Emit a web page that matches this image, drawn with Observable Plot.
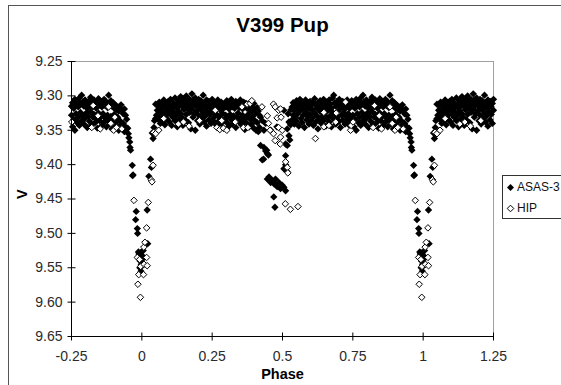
<!DOCTYPE html>
<html><head><meta charset="utf-8">
<script src="https://cdn.jsdelivr.net/npm/d3@7"></script>
<script src="https://cdn.jsdelivr.net/npm/@observablehq/plot@0.6"></script>
<style>
html,body{margin:0;padding:0;background:#fff;}
#wrap{position:relative;width:561px;height:385px;overflow:hidden;font-family:"Liberation Sans",Arial,sans-serif;background:#fff;}
#frame{position:absolute;left:8px;top:5px;width:620px;height:420px;border:1px solid #555;box-sizing:border-box;}
#chart{position:absolute;left:0;top:0;}
#legend{position:absolute;left:502px;top:175px;width:90px;height:44px;border:1px solid #333;box-sizing:border-box;background:#fff;font-size:12px;color:#111;}
#legend .row{position:absolute;left:3px;height:16px;line-height:16px;white-space:nowrap;}
#legend svg{vertical-align:middle;margin-right:2px;}
</style></head>
<body>
<div id="wrap">
  <div id="frame"></div>
  <div id="chart"></div>
  <div id="legend">
    <div class="row" style="top:3px"><svg width="9" height="9" viewBox="-4.5 -4.5 9 9"><path d="M0,-3.5L3.5,0L0,3.5L-3.5,0Z" fill="#000"/></svg>ASAS-3</div>
    <div class="row" style="top:24px"><svg width="9" height="9" viewBox="-4.5 -4.5 9 9"><path d="M0,-3.3L3.3,0L0,3.3L-3.3,0Z" fill="#fff" stroke="#000" stroke-width="1"/></svg>HIP</div>
  </div>
</div>
<script>
// ---- data (phase in [0,1); the chart repeats phases < 0.25 and > 0.75) ----
const chartTitle = "V399 Pup";
const seriesNames = ["ASAS-3", "HIP"];
const xTicks = [-0.25, 0, 0.25, 0.5, 0.75, 1, 1.25];
const yTicks = [9.25, 9.30, 9.35, 9.40, 9.45, 9.50, 9.55, 9.60, 9.65];

// ASAS-3 primary eclipse [phase, V]
const asasPrimary = [
[0.950,9.347],[0.952,9.355],[0.954,9.361],[0.957,9.367],[0.958,9.375],[0.960,9.379],
[0.966,9.401],[0.969,9.415],[0.967,9.416],[0.980,9.468],[0.978,9.480],[0.984,9.493],
[0.985,9.500],[0.988,9.527],[0.990,9.530],[0.992,9.535],[0.994,9.540],[0.996,9.528],
[0.998,9.545],[0.993,9.550],[0.997,9.555],[0.999,9.548],[0.001,9.538],[0.003,9.533],
[0.005,9.525],[0.019,9.466],[0.021,9.515],[0.025,9.417],[0.031,9.392],[0.034,9.404],
[0.037,9.354],[0.040,9.362],[0.043,9.346],[0.045,9.336],[0.049,9.312],[0.049,9.333],
[0.055,9.321],[0.052,9.328]
];
// ASAS-3 secondary eclipse [phase, V]
const asasSecondary = [
[0.422,9.331],[0.428,9.336],[0.434,9.350],[0.422,9.372],[0.434,9.375],[0.440,9.380],
[0.446,9.384],[0.428,9.393],[0.450,9.386],[0.444,9.379],[0.433,9.392],[0.446,9.421],
[0.452,9.418],[0.458,9.426],[0.464,9.423],[0.470,9.428],[0.475,9.421],[0.481,9.432],
[0.487,9.426],[0.493,9.435],[0.499,9.430],[0.505,9.433],[0.511,9.438],[0.469,9.447],
[0.473,9.462],[0.505,9.406],[0.511,9.387],[0.511,9.400],[0.516,9.410],[0.517,9.372],
[0.523,9.358],[0.526,9.364],[0.511,9.370],[0.523,9.338],[0.517,9.348],[0.529,9.342],
[0.505,9.321],[0.520,9.326],[0.530,9.320],[0.440,9.340],[0.458,9.350],[0.480,9.345]
];
// ASAS-3 out of eclipse [phase, V, V]
const asasBand = [
[0.058,9.315,9.334],[0.062,9.309,9.326],[0.066,9.322,9.340],[0.070,9.312,9.330],[0.074,9.318,9.337],
[0.078,9.306,9.325],[0.082,9.316,9.342],[0.086,9.311,9.329],[0.090,9.320,9.334],[0.094,9.308,9.323],
[0.098,9.314,9.338],[0.102,9.305,9.327],[0.106,9.319,9.343],[0.110,9.310,9.331],[0.114,9.316,9.324],
[0.118,9.303,9.336],[0.122,9.312,9.328],[0.126,9.318,9.345],[0.130,9.307,9.322],[0.132,9.334,9.313],
[0.134,9.313,9.340],[0.138,9.301,9.326],[0.142,9.309,9.331],[0.146,9.316,9.343],[0.150,9.304,9.320],
[0.154,9.311,9.335],[0.158,9.300,9.327],[0.162,9.308,9.318],[0.166,9.314,9.339],[0.170,9.305,9.324],
[0.174,9.310,9.348],[0.178,9.297,9.319],[0.182,9.306,9.331],[0.186,9.313,9.326],[0.190,9.303,9.350],
[0.194,9.309,9.322],[0.198,9.316,9.336],[0.202,9.305,9.328],[0.206,9.312,9.341],[0.210,9.307,9.320],
[0.214,9.315,9.333],[0.218,9.299,9.325],[0.222,9.310,9.338],[0.226,9.318,9.329],[0.230,9.306,9.344],
[0.234,9.313,9.323],[0.238,9.308,9.335],[0.242,9.316,9.327],[0.246,9.311,9.340],[0.250,9.305,9.321],
[0.254,9.314,9.332],[0.258,9.309,9.338],[0.262,9.318,9.326],[0.266,9.312,9.343],[0.270,9.306,9.329],
[0.274,9.315,9.336],[0.278,9.320,9.331],[0.282,9.309,9.340],[0.286,9.313,9.325],[0.290,9.318,9.347],
[0.294,9.311,9.334],[0.298,9.316,9.328],[0.302,9.307,9.339],[0.306,9.314,9.330],[0.310,9.319,9.344],
[0.314,9.310,9.327],[0.318,9.305,9.335],[0.322,9.316,9.341],[0.326,9.312,9.329],[0.330,9.318,9.336],
[0.334,9.308,9.346],[0.338,9.314,9.331],[0.342,9.310,9.325],[0.346,9.317,9.338],[0.350,9.306,9.333],
[0.354,9.313,9.342],[0.358,9.319,9.328],[0.362,9.309,9.337],[0.366,9.315,9.349],[0.370,9.311,9.332],
[0.374,9.318,9.340],[0.378,9.313,9.327],[0.382,9.320,9.345],[0.386,9.315,9.334],[0.390,9.322,9.341],
[0.394,9.316,9.330],[0.398,9.311,9.347],[0.402,9.319,9.336],[0.406,9.325,9.350],[0.410,9.317,9.339],
[0.414,9.322,9.352],[0.418,9.328,9.346],
[0.534,9.316,9.335],[0.538,9.310,9.328],[0.542,9.321,9.341],[0.546,9.313,9.331],[0.550,9.307,9.337],
[0.554,9.318,9.326],[0.558,9.311,9.344],[0.562,9.305,9.322],[0.566,9.315,9.333],[0.570,9.309,9.339],
[0.574,9.318,9.328],[0.578,9.312,9.346],[0.582,9.306,9.324],[0.586,9.316,9.335],[0.590,9.310,9.330],
[0.594,9.319,9.341],[0.598,9.308,9.327],[0.602,9.314,9.336],[0.606,9.320,9.332],[0.610,9.309,9.343],
[0.614,9.304,9.325],[0.618,9.313,9.338],[0.622,9.318,9.329],[0.626,9.310,9.348],[0.630,9.315,9.334],
[0.634,9.307,9.323],[0.638,9.312,9.340],[0.642,9.318,9.330],[0.646,9.305,9.336],[0.650,9.311,9.326],
[0.654,9.316,9.344],[0.658,9.309,9.332],[0.662,9.314,9.321],[0.666,9.306,9.338],[0.670,9.312,9.329],
[0.674,9.318,9.345],[0.678,9.303,9.324],[0.682,9.299,9.334],[0.686,9.310,9.327],[0.690,9.315,9.341],
[0.694,9.308,9.331],[0.698,9.313,9.322],[0.702,9.305,9.337],[0.706,9.311,9.346],[0.710,9.317,9.328],
[0.714,9.308,9.335],[0.718,9.313,9.324],[0.722,9.319,9.341],[0.726,9.310,9.330],[0.730,9.306,9.336],
[0.734,9.314,9.326],[0.738,9.318,9.343],[0.742,9.311,9.332],[0.746,9.307,9.338],[0.750,9.315,9.328],
[0.754,9.310,9.345],[0.758,9.318,9.334],[0.762,9.305,9.350],[0.766,9.312,9.326],[0.770,9.308,9.339],
[0.774,9.316,9.331],[0.778,9.303,9.343],[0.782,9.311,9.324],[0.786,9.299,9.336],[0.790,9.309,9.329],
[0.794,9.315,9.341],[0.798,9.306,9.333],[0.802,9.312,9.325],[0.806,9.318,9.346],[0.810,9.308,9.330],
[0.814,9.314,9.337],[0.818,9.302,9.323],[0.822,9.310,9.342],[0.826,9.316,9.331],[0.830,9.306,9.327],
[0.834,9.312,9.339],[0.838,9.318,9.334],[0.842,9.309,9.347],[0.846,9.304,9.325],[0.850,9.313,9.336],
[0.854,9.308,9.330],[0.858,9.316,9.343],[0.862,9.311,9.326],[0.866,9.305,9.338],[0.870,9.314,9.332],
[0.874,9.309,9.345],[0.878,9.317,9.328],[0.882,9.299,9.336],[0.886,9.312,9.341],[0.890,9.307,9.330],
[0.894,9.315,9.348],[0.898,9.310,9.335],[0.902,9.318,9.327],[0.906,9.313,9.344],[0.910,9.320,9.338],
[0.914,9.316,9.331],[0.918,9.322,9.350],[0.922,9.318,9.336],[0.926,9.313,9.342],[0.930,9.321,9.347],
[0.934,9.326,9.340],[0.938,9.319,9.352],[0.942,9.328,9.345],[0.946,9.334,9.348]
];
// HIP [phase, V]
const hipPoints = [
[0.972,9.452],[0.984,9.535],[0.989,9.560],[0.986,9.574],[0.995,9.593],[0.992,9.538],[0.996,9.548],
[0.006,9.560],[0.007,9.520],[0.008,9.545],[0.011,9.513],[0.017,9.492],[0.017,9.535],[0.019,9.547],
[0.023,9.455],[0.033,9.422],[0.036,9.425],[0.040,9.401],[0.042,9.353],[0.049,9.355],[0.060,9.350],
[0.078,9.333],[0.130,9.341],[0.148,9.338],[0.168,9.344],[0.205,9.336],[0.261,9.321],[0.267,9.346],
[0.277,9.349],[0.284,9.336],[0.290,9.347],[0.302,9.350],[0.332,9.338],[0.356,9.316],[0.361,9.346],
[0.374,9.312],[0.377,9.346],[0.385,9.311],[0.391,9.307],[0.427,9.316],
[0.446,9.329],[0.450,9.340],[0.456,9.350],[0.468,9.312],[0.468,9.355],[0.474,9.316],[0.474,9.365],
[0.481,9.332],[0.486,9.321],[0.486,9.346],[0.492,9.370],[0.493,9.319],[0.495,9.331],[0.499,9.350],
[0.493,9.360],[0.511,9.396],[0.517,9.404],[0.519,9.412],[0.510,9.457],[0.528,9.465],[0.555,9.461],
[0.617,9.362],[0.647,9.324],[0.647,9.345],[0.665,9.343],[0.689,9.338],[0.691,9.325],[0.724,9.309],
[0.742,9.350],[0.744,9.343],[0.751,9.338],[0.822,9.346],[0.827,9.314],[0.844,9.329],[0.852,9.348],
[0.882,9.316],[0.890,9.340],[0.900,9.350],[0.904,9.331],[0.910,9.346],[0.929,9.348]
];

// ---- build rows (phase-folded duplicates as in the original chart) ----
function pairs(rows) {
  const out = [];
  rows.forEach(r => { for (let k = 1; k < r.length; k++) out.push([r[0], r[k]]); });
  return out;
}
function fold(list) {
  const out = [];
  list.forEach(([p, v]) => {
    out.push({phase: p, mag: v});
    if (p >= 0.75) out.push({phase: p - 1, mag: v});
    if (p <= 0.25) out.push({phase: p + 1, mag: v});
  });
  return out;
}
const asasRows = fold([...pairs(asasBand), ...asasSecondary, ...asasPrimary]);
const hipRows = fold(hipPoints);

const hLine = {draw(c) { c.moveTo(-4, 0); c.lineTo(4, 0); }};
const vLine = {draw(c) { c.moveTo(0, -4); c.lineTo(0, 4); }};
const font = '"Liberation Sans", Arial, sans-serif';

const chart = Plot.plot({
  width: 561,
  height: 385,
  marginLeft: 71,
  marginRight: 68,
  marginTop: 61,
  marginBottom: 49,
  style: {fontFamily: font, background: "transparent", overflow: "visible"},
  x: {domain: [-0.25, 1.25]},
  y: {domain: [9.25, 9.65], reverse: true},
  marks: [
    Plot.ruleY([9.25], {stroke: "#a0a0a0", strokeWidth: 1}),
    Plot.ruleX([1.25], {stroke: "#a0a0a0", strokeWidth: 1}),
    Plot.dot(asasRows, {x: "phase", y: "mag", symbol: "diamond2", r: 3.3, fill: "#000", stroke: "none"}),
    Plot.dot(hipRows, {x: "phase", y: "mag", symbol: "diamond2", r: 2.95, fill: "#fff", stroke: "#000", strokeWidth: 1}),
    Plot.ruleX([-0.25], {stroke: "#000", strokeWidth: 1}),
    Plot.ruleY([9.65], {stroke: "#000", strokeWidth: 1}),
    Plot.dot(yTicks, {x: () => -0.25, y: d => d, symbol: hLine, stroke: "#000", strokeWidth: 1}),
    Plot.dot(xTicks, {x: d => d, y: () => 9.65, symbol: vLine, stroke: "#000", strokeWidth: 1}),
    Plot.axisY(yTicks, {tickSize: 0, tickPadding: 9, tickFormat: d3.format(".2f"), fontSize: 14, fill: "#2a2a2a", label: null}),
    Plot.axisX(xTicks, {tickSize: 0, tickPadding: 15, tickFormat: d => String(d), fontSize: 14, fill: "#2a2a2a", label: null}),
    Plot.text([chartTitle], {frameAnchor: "top", dy: -36, lineAnchor: "middle", fontSize: 20.5, fontWeight: "bold", fill: "#000"}),
    Plot.text(["Phase"], {frameAnchor: "bottom", dy: 38, lineAnchor: "middle", fontSize: 14.5, fontWeight: "bold", fill: "#000"}),
    Plot.text(["V"], {frameAnchor: "left", dx: -49, rotate: -90, lineAnchor: "middle", fontSize: 14.5, fontWeight: "bold", fill: "#000"})
  ]
});
document.getElementById("chart").appendChild(chart);
</script>
</body></html>
